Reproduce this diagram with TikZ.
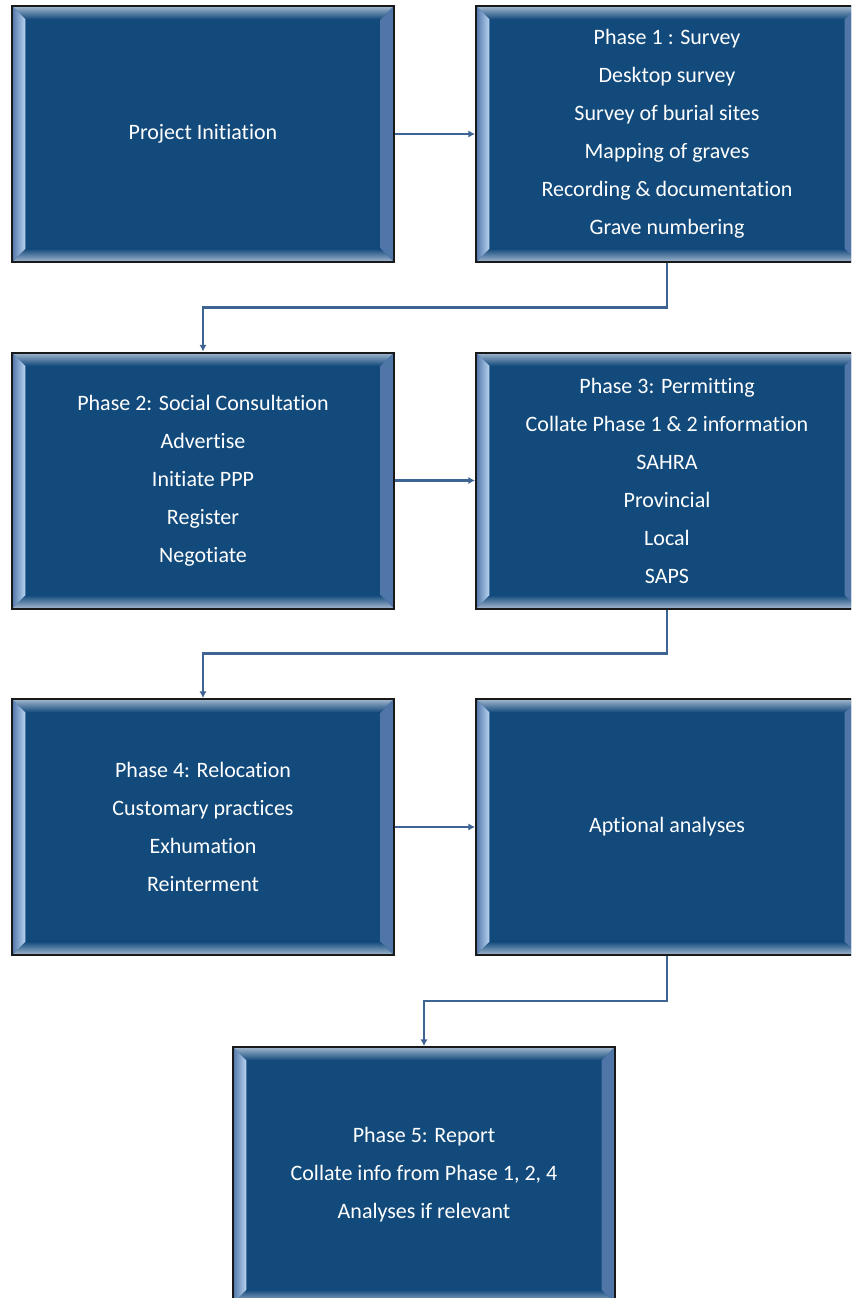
\documentclass[tikz,border=0pt]{standalone}
\usepackage{fontspec}
\setmainfont[Ligatures=NoCommon]{Carlito}
\usetikzlibrary{arrows.meta,calc,shadings}
\definecolor{boxblue}{RGB}{19,74,124}
\definecolor{bevlight}{RGB}{165,185,208}
\definecolor{bevhi}{RGB}{185,212,240}
\definecolor{bevmid}{RGB}{80,118,168}
\definecolor{bevedge}{RGB}{25,25,25}
\definecolor{connblue}{RGB}{62,100,148}
\tikzset{
  bevel/.style={path picture={
    \path (path picture bounding box.north west) coordinate (pnw)
          (path picture bounding box.south east) coordinate (pse);
    \shade[top color=bevlight,bottom color=boxblue] (pnw) -- (pnw -| pse) -- ($(pnw -| pse)+(-#1,-#1)$) -- ($(pnw)+(#1,-#1)$) -- cycle;
    \shade[top color=boxblue,bottom color=bevlight] (pnw |- pse) -- (pse) -- ($(pse)+(-#1,#1)$) -- ($(pnw |- pse)+(#1,#1)$) -- cycle;
    \shade[left color=bevmid,right color=bevhi] (pnw) -- ($(pnw)+(#1,-#1)$) -- ($(pnw |- pse)+(#1,#1)$) -- (pnw |- pse) -- cycle;
    \shade[left color=bevmid,middle color=bevhi,right color=bevmid] (pnw -| pse) -- ($(pnw -| pse)+(-#1,-#1)$) -- ($(pse)+(-#1,#1)$) -- (pse) -- cycle;
  }},
  phase/.style={draw=bevedge, line width=1.5pt, fill=boxblue, bevel=10pt,
    minimum width=286.5pt, minimum height=192pt, inner sep=0pt,
    text=white, align=center, font=\fontsize{16.5}{28.5}\selectfont},
  conn/.style={draw=connblue, line width=2.2pt, -{Latex[length=5pt,width=5.5pt]}},
}
\begin{document}
\begin{tikzpicture}[x=0.75pt,y=-0.75pt]
  \useasboundingbox (0,0) rectangle (851,1298);
  \clip (0,0) rectangle (851,1298);
  % boxes
  \node[phase] (init) at (203,134) {Project Initiation};
  \node[phase] (survey) at (667,134) {Phase 1 : Survey\\Desktop survey\\Survey of burial sites\\Mapping of graves\\Recording \& documentation\\Grave numbering};
  \node[phase] (social) at (203,480.5) {Phase 2: Social Consultation\\Advertise\\Initiate PPP\\Register\\Negotiate};
  \node[phase] (permit) at (667,480.5) {Phase 3: Permitting\\Collate Phase 1 \& 2 information\\SAHRA\\Provincial\\Local\\SAPS};
  \node[phase] (reloc) at (203,827) {Phase 4: Relocation\\Customary practices\\Exhumation\\Reinterment};
  \node[phase] (analyse) at (667,827) {Aptional analyses};
  \node[phase] (report) at (424,1175) {Phase 5: Report\\Collate info from Phase 1, 2, 4\\Analyses if relevant};
  % connectors
  \draw[conn] (init.east) -- (survey.west);
  \draw[conn] (survey.south) |- ($(survey.south)!0.5!(social.north)$) -| (social.north);
  \draw[conn] (social.east) -- (permit.west);
  \draw[conn] (permit.south) |- ($(permit.south)!0.5!(reloc.north)$) -| (reloc.north);
  \draw[conn] (reloc.east) -- (analyse.west);
  \draw[conn] (analyse.south) |- ($(analyse.south)!0.5!(report.north)$) -| (report.north);
\end{tikzpicture}
\end{document}
